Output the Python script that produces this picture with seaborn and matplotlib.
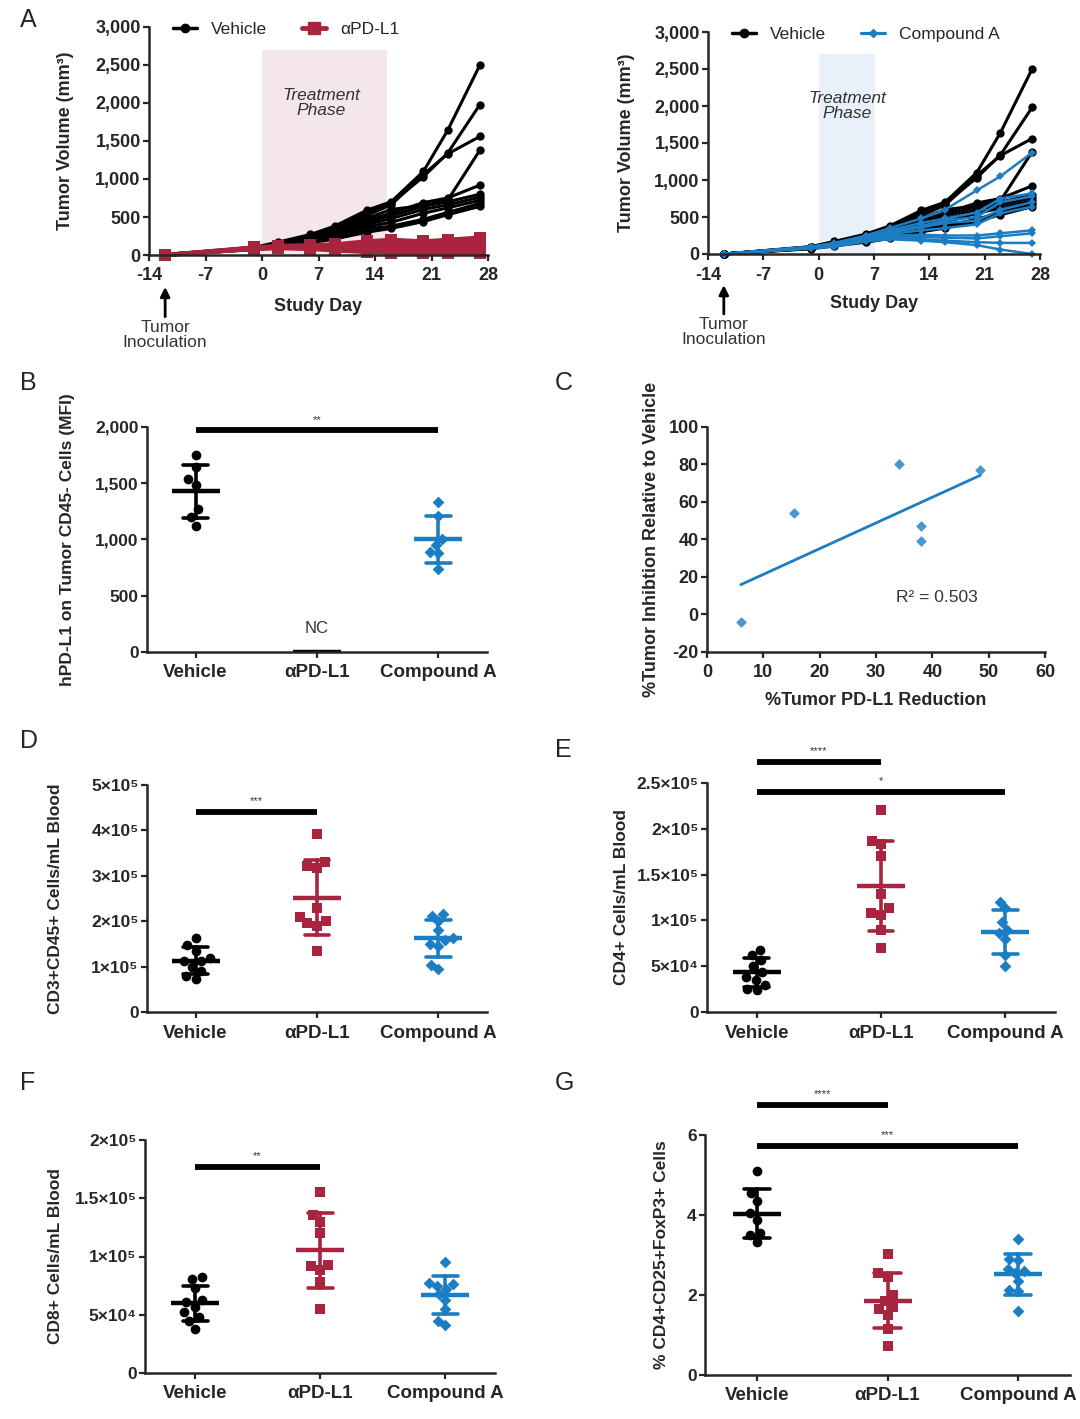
import numpy as np
import pandas as pd
import seaborn as sns
import matplotlib.pyplot as plt
from matplotlib.lines import Line2D
from matplotlib.ticker import FuncFormatter, MultipleLocator

groups = ['Vehicle', 'αPD-L1', 'Compound A']

## panel A: tumour growth per mouse
days = [-12, -1, 2, 6, 9, 13, 16, 20, 23, 27]
vehicle_vol = [
    [0, 100, 170, 270, 380, 590, 700, 1100, 1640, 2500],
    [0, 95, 160, 260, 360, 560, 680, 1030, 1340, 1980],
    [0, 90, 150, 250, 340, 520, 660, 1060, 1330, 1560],
    [0, 90, 150, 240, 320, 480, 600, 650, 720, 1380],
    [0, 85, 140, 230, 300, 450, 550, 690, 750, 920],
    [0, 85, 140, 220, 290, 430, 520, 640, 700, 800],
    [0, 80, 130, 200, 270, 400, 480, 600, 660, 760],
    [0, 80, 130, 190, 250, 370, 430, 550, 620, 720],
    [0, 75, 120, 180, 230, 340, 380, 470, 560, 680],
    [0, 70, 110, 160, 210, 300, 350, 440, 530, 640],
]
pdl1_vol = [
    [0, 100, 120, 130, 140, 180, 200, 180, 200, 230],
    [0, 95, 115, 120, 120, 150, 170, 160, 170, 190],
    [0, 90, 110, 110, 110, 130, 140, 130, 140, 150],
    [0, 90, 105, 100, 100, 110, 110, 100, 110, 110],
    [0, 85, 100, 95, 90, 90, 80, 80, 80, 80],
    [0, 85, 100, 90, 80, 70, 60, 50, 50, 50],
    [0, 80, 95, 85, 70, 50, 40, 30, 30, 30],
    [0, 80, 90, 80, 60, 40, 30, 20, 20, 20],
]
compa_vol = [
    [0, 100, 150, 250, 350, 480, 600, 860, 1050, 1370],
    [0, 95, 140, 240, 320, 420, 480, 560, 750, 820],
    [0, 90, 130, 230, 300, 380, 450, 500, 700, 780],
    [0, 90, 130, 220, 290, 360, 420, 450, 600, 700],
    [0, 85, 120, 210, 270, 320, 350, 400, 550, 640],
    [0, 85, 120, 200, 250, 260, 250, 250, 280, 320],
    [0, 80, 110, 190, 230, 230, 220, 210, 240, 280],
    [0, 80, 110, 180, 210, 200, 180, 160, 150, 150],
    [0, 75, 100, 170, 200, 180, 160, 120, 60, 0],
]

## panel B: hPD-L1 MFI (aPD-L1 not calculable -> zero line)
b_vehicle = [1755, 1640, 1536, 1480, 1270, 1202, 1123]
b_pdl1 = [0]
b_compa = [1335, 1210, 1000, 950, 885, 880, 740]

## panel C
c_reduction = [6, 15.5, 34, 38, 38, 48.5]
c_inhibition = [-4, 54, 80, 47, 39, 77]

## panel D: CD3+CD45+
d_vehicle = [1.63e5, 1.48e5, 1.35e5, 1.2e5, 1.12e5, 1.12e5, 1.0e5, 0.9e5, 0.8e5, 0.72e5]
d_pdl1 = [3.92e5, 3.3e5, 3.22e5, 3.18e5, 2.3e5, 2.1e5, 2.0e5, 1.95e5, 1.9e5, 1.35e5]
d_compa = [2.15e5, 2.12e5, 2.0e5, 1.8e5, 1.62e5, 1.58e5, 1.5e5, 1.45e5, 1.03e5, 0.94e5]

## panel E: CD4+
e_vehicle = [0.68e5, 0.62e5, 0.57e5, 0.5e5, 0.44e5, 0.38e5, 0.35e5, 0.3e5, 0.25e5, 0.24e5]
e_pdl1 = [2.2e5, 1.87e5, 1.83e5, 1.7e5, 1.29e5, 1.13e5, 1.08e5, 1.06e5, 0.9e5, 0.7e5]
e_compa = [1.2e5, 1.13e5, 0.98e5, 0.9e5, 0.86e5, 0.8e5, 0.62e5, 0.5e5]

## panel F: CD8+
f_vehicle = [0.82e5, 0.81e5, 0.73e5, 0.63e5, 0.61e5, 0.57e5, 0.52e5, 0.48e5, 0.45e5, 0.38e5]
f_pdl1 = [1.55e5, 1.36e5, 1.30e5, 1.20e5, 0.93e5, 0.92e5, 0.88e5, 0.78e5, 0.55e5]
f_compa = [0.95e5, 0.77e5, 0.76e5, 0.75e5, 0.72e5, 0.68e5, 0.63e5, 0.55e5, 0.45e5, 0.41e5]

## panel G: Tregs
g_vehicle = [5.1, 4.55, 4.35, 4.05, 3.88, 3.55, 3.5, 3.32]
g_pdl1 = [3.02, 2.56, 2.45, 2.0, 1.85, 1.7, 1.65, 1.5, 1.15, 0.72]
g_compa = [3.4, 2.9, 2.88, 2.65, 2.6, 2.55, 2.35, 2.12, 2.1, 1.6]

RED = '#A8243F'
BLUE = '#1B7DC3'
colors = ['black', RED, BLUE]
markers = ['o', 's', 'D']
sizes = [7, 7, 6]

sns.set_style('ticks')
plt.rcParams['font.family'] = ['Liberation Sans', 'DejaVu Sans']
plt.rcParams['font.weight'] = 'bold'
plt.rcParams['axes.labelweight'] = 'bold'
plt.rcParams['axes.unicode_minus'] = False

W, H = 1080, 1419
fig = plt.figure(figsize=(W / 100, H / 100), dpi=100)


def add_ax(l, t, r, b):
    return fig.add_axes([l / W, 1 - b / H, (r - l) / W, (b - t) / H])


def style(ax, labelsize=13):
    sns.despine(ax=ax)
    for s in ('left', 'bottom'):
        ax.spines[s].set_linewidth(1.8)
    ax.tick_params(direction='out', length=4, width=1.6, labelsize=labelsize, pad=2)
    ax.tick_params(axis='x', pad=5)


SUP = str.maketrans('0123456789', '⁰¹²³⁴⁵⁶⁷⁸⁹')


def sci(v, pos):
    if v < 1:
        return '0' if abs(v) < 1 else ''
    e = int(np.floor(np.log10(v) + 1e-9))
    return '{:g}×10{}'.format(v / 10 ** e, str(e).translate(SUP))


def growth_panel(ax, name, vols, col, mk, ms, lw, shade_end, shade_col, text_x):
    rows = []
    for g, data in (('Vehicle', vehicle_vol), (name, vols)):
        for i, v in enumerate(data):
            rows.append(pd.DataFrame({'day': days, 'volume': v, 'mouse': '{}{}'.format(g, i), 'group': g}))
    df = pd.concat(rows)
    ax.axvspan(0, shade_end, ymin=0, ymax=0.9, color=shade_col, lw=0, zorder=0)
    sns.lineplot(data=df[df.group == 'Vehicle'], x='day', y='volume', units='mouse', estimator=None,
                 color='black', marker='o', markersize=6, markeredgewidth=0, lw=2.2, ax=ax,
                 clip_on=False, legend=False)
    sns.lineplot(data=df[df.group == name], x='day', y='volume', units='mouse', estimator=None,
                 color=col, marker=mk, markersize=ms, markeredgewidth=0, lw=lw, ax=ax,
                 clip_on=False, legend=False)
    ax.set_xlim(-14, 28)
    ax.set_ylim(0, 3000)
    ax.xaxis.set_major_locator(MultipleLocator(7))
    ax.yaxis.set_major_locator(MultipleLocator(500))
    ax.yaxis.set_major_formatter(FuncFormatter(lambda v, p: '{:,.0f}'.format(v)))
    style(ax)
    ax.set_xlabel('Study Day', fontsize=13, va='center')
    ax.xaxis.set_label_coords(0.5, -0.225)
    ax.set_ylabel('Tumor Volume (mm³)', fontsize=13, va='center')
    ax.yaxis.set_label_coords(-0.245, 0.5)
    ax.text(text_x, 2000, 'Treatment\nPhase', style='italic', fontweight='normal', fontsize=12.5,
            ha='center', va='center', color='#333333', linespacing=1.0)
    ax.annotate('Tumor\nInoculation', xy=(-12, -0.14), xytext=(-12, -0.285),
                xycoords=('data', 'axes fraction'), textcoords=('data', 'axes fraction'),
                ha='center', va='top', fontsize=12.5, fontweight='normal', color='#333333',
                linespacing=1.0,
                arrowprops=dict(arrowstyle='-|>', color='black', lw=2, mutation_scale=14,
                                shrinkA=0, shrinkB=0))
    handles = [Line2D([], [], color='black', marker='o', lw=2.5, ms=6),
               Line2D([], [], color=col, marker=mk, lw=lw + 0.5, ms=ms)]
    ax.legend(handles, ['Vehicle', name], loc='center left', bbox_to_anchor=(0.05, 0.99),
              ncol=2, frameon=False, prop={'weight': 'normal', 'size': 12.5},
              handlelength=1.4, columnspacing=2.0, handletextpad=0.8, borderaxespad=0)


def dot_panel(ax, vals, ymax, step, fmt, ylabel, label_x, sigs, nc=False):
    df = pd.DataFrame([(g, v) for g, vs in zip(groups, vals) for v in vs], columns=['group', 'value'])
    for g, col, mk, sz in zip(groups, colors, markers, sizes):
        sub = df[df.group == g]
        if nc and g == 'αPD-L1':
            col = 'black'
        else:
            sns.swarmplot(data=sub, x='group', y='value', order=groups, color=col, marker=mk,
                          size=sz, linewidth=0, ax=ax, clip_on=False)
        sns.pointplot(data=sub, x='group', y='value', order=groups, color=col, errorbar='sd',
                      capsize=0.2, marker='_', markersize=34, markeredgewidth=3.2,
                      linestyle='none', err_kws={'linewidth': 2.6}, ax=ax)
    ax.set_xlim(-0.4, 2.4)
    ax.set_ylim(0, ymax)
    ax.yaxis.set_major_locator(MultipleLocator(step))
    ax.yaxis.set_major_formatter(FuncFormatter(fmt))
    style(ax)
    ax.tick_params(axis='y', labelsize=12.5)
    ax.tick_params(axis='x', labelsize=13.5, pad=5)
    ax.set_xlabel('')
    ax.set_ylabel(ylabel, fontsize=12.5, va='center')
    ax.yaxis.set_label_coords(label_x, 0.5)
    for x0, x1, y, stars in sigs:
        ax.plot([x0, x1], [y, y], color='black', lw=4.2, solid_capstyle='butt', clip_on=False)
        ax.text((x0 + x1) / 2, y + ymax * 0.025, stars, ha='center', va='bottom', fontsize=8,
                fontweight='normal', color='#333333')
    if nc:
        ax.text(1, ymax * 0.07, 'NC', ha='center', va='bottom', fontsize=12, fontweight='normal',
                color='#333333')


comma = lambda v, p: '{:,.0f}'.format(v)
plain = lambda v, p: '{:g}'.format(v)

# A
axA1 = add_ax(149, 27, 488, 255)
growth_panel(axA1, 'αPD-L1', pdl1_vol, RED, 's', 8.5, 3.0, 15.5, '#F4E6EA', 7.3)
axA2 = add_ax(708, 32, 1040, 254)
growth_panel(axA2, 'Compound A', compa_vol, BLUE, 'D', 4.5, 1.8, 7.1, '#E8F0F9', 3.6)

# B
axB = add_ax(147, 427, 487, 652)
dot_panel(axB, [b_vehicle, b_pdl1, b_compa], 2000, 500, comma,
          'hPD-L1 on Tumor CD45- Cells (MFI)', -0.235, [(0, 2, 1970, '**')], nc=True)

# C
axC = add_ax(707, 427, 1045, 652)
sns.regplot(x=c_reduction, y=c_inhibition, ci=None, color=BLUE, marker='D', truncate=True,
            scatter_kws={'s': 30, 'linewidths': 0}, line_kws={'lw': 2}, ax=axC)
axC.set_xlim(0, 60)
axC.set_ylim(-20, 100)
axC.xaxis.set_major_locator(MultipleLocator(10))
axC.yaxis.set_major_locator(MultipleLocator(20))
style(axC)
axC.set_xlabel('%Tumor PD-L1 Reduction', fontsize=13, va='center')
axC.xaxis.set_label_coords(0.5, -0.215)
axC.set_ylabel('%Tumor Inhibtion Relative to Vehicle', fontsize=13, va='center')
axC.yaxis.set_label_coords(-0.163, 0.5)
axC.text(33.5, 9, 'R² = 0.503', fontsize=12.5, fontweight='normal', color='#333333', va='center')

# D
axD = add_ax(147, 785, 487, 1012)
dot_panel(axD, [d_vehicle, d_pdl1, d_compa], 5e5, 1e5, sci,
          'CD3+CD45+ Cells/mL Blood', -0.27, [(0, 1, 4.4e5, '***')])

# E
axE = add_ax(707, 783, 1055, 1012)
dot_panel(axE, [e_vehicle, e_pdl1, e_compa], 2.5e5, 0.5e5, sci,
          'CD4+ Cells/mL Blood', -0.245, [(0, 1, 2.73e5, '****'), (0, 2, 2.4e5, '*')])

# F
axF = add_ax(145, 1140, 495, 1373)
dot_panel(axF, [f_vehicle, f_pdl1, f_compa], 2e5, 0.5e5, sci,
          'CD8+ Cells/mL Blood', -0.257, [(0, 1, 1.77e5, '**')])

# G
axG = add_ax(705, 1135, 1070, 1375)
dot_panel(axG, [g_vehicle, g_pdl1, g_compa], 6, 2, plain,
          '% CD4+CD25+FoxP3+ Cells', -0.118, [(0, 1, 6.76, '****'), (0, 2, 5.73, '***')])

for letter, x, y in (('A', 20, 20), ('B', 20, 383), ('C', 555, 383), ('D', 20, 741),
                     ('E', 555, 750), ('F', 20, 1083), ('G', 555, 1083)):
    fig.text(x / W, 1 - y / H, letter, fontsize=18, fontweight='normal', va='center', ha='left')

fig.savefig('out.png', dpi=100)
